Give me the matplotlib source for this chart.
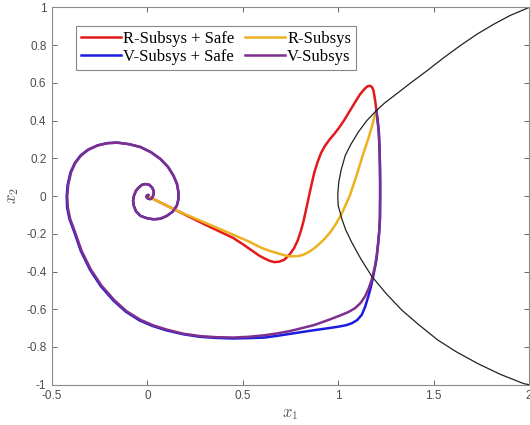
import matplotlib
matplotlib.use('Agg')
import matplotlib.pyplot as plt

plt.rcParams['mathtext.fontset'] = 'cm'

# trajectories (x1, x2)
red_x1 = [0.0, 0.05, 0.15, 0.3, 0.45, 0.5, 0.55, 0.585, 0.613, 0.64, 0.665, 0.69, 0.717,
          0.745, 0.769, 0.788, 0.804, 0.818, 0.83, 0.845, 0.86, 0.875, 0.892, 0.91, 0.93,
          0.955, 0.98, 1.005, 1.03, 1.06, 1.09, 1.115, 1.14, 1.155, 1.167, 1.178, 1.185,
          1.19, 1.195, 1.2]
red_x2 = [0.0, -0.025, -0.075, -0.15, -0.222, -0.255, -0.29, -0.315, -0.33, -0.343, -0.35,
          -0.348, -0.338, -0.31, -0.276, -0.235, -0.187, -0.135, -0.08, -0.01, 0.06, 0.125,
          0.18, 0.228, 0.265, 0.3, 0.33, 0.363, 0.40, 0.45, 0.50, 0.54, 0.57, 0.583, 0.585,
          0.577, 0.56, 0.53, 0.50, 0.455]

yel_x1 = [0.0, 0.05, 0.15, 0.3, 0.45, 0.53, 0.6, 0.64, 0.68, 0.715, 0.75, 0.79, 0.815,
          0.84, 0.87, 0.9, 0.93, 0.96, 0.99, 1.02, 1.04, 1.06, 1.08, 1.1, 1.115, 1.13,
          1.145, 1.16, 1.17, 1.18, 1.19, 1.2]
yel_x2 = [0.0, -0.025, -0.075, -0.14, -0.205, -0.24, -0.275, -0.29, -0.302, -0.313, -0.32,
          -0.318, -0.312, -0.3, -0.28, -0.255, -0.225, -0.19, -0.145, -0.09, -0.045, 0.0,
          0.06, 0.12, 0.17, 0.22, 0.265, 0.31, 0.345, 0.38, 0.42, 0.455]

pur_x1 = [1.2, 1.207, 1.213, 1.217, 1.219, 1.22, 1.22, 1.219, 1.215, 1.21, 1.203, 1.193,
          1.176, 1.16, 1.141, 1.117, 1.089, 1.055, 1.02, 0.951, 0.873, 0.75, 0.68, 0.613,
          0.53, 0.45, 0.36, 0.275, 0.19, 0.102, 0.03, -0.036, -0.11, -0.175, -0.24, -0.296,
          -0.345, -0.383, -0.405, -0.417, -0.42, -0.415, -0.4, -0.378, -0.348, -0.31,
          -0.261, -0.21, -0.157, -0.095, -0.036, 0.02, 0.068, 0.108, 0.137, 0.155, 0.163,
          0.162, 0.154, 0.132, 0.102, 0.068, 0.033, 0.0, -0.036, -0.06, -0.071, -0.075,
          -0.071, -0.06, -0.045, -0.028, -0.01, 0.01, 0.024, 0.033, 0.033, 0.026, 0.016,
          0.004, -0.004, -0.002, 0.006, 0.0]
pur_x2 = [0.455, 0.4, 0.34, 0.25, 0.16, 0.08, 0.0, -0.12, -0.19, -0.247, -0.31, -0.372,
          -0.443, -0.49, -0.532, -0.567, -0.594, -0.614, -0.629, -0.656, -0.684, -0.715,
          -0.728, -0.738, -0.746, -0.75, -0.748, -0.742, -0.73, -0.708, -0.685, -0.656,
          -0.61, -0.55, -0.475, -0.39, -0.29, -0.18, -0.12, -0.06, 0.0, 0.06, 0.126, 0.175,
          0.215, 0.245, 0.268, 0.28, 0.283, 0.275, 0.26, 0.232, 0.197, 0.155, 0.108, 0.065,
          0.02, -0.02, -0.052, -0.083, -0.105, -0.12, -0.123, -0.118, -0.105, -0.08, -0.052,
          -0.025, 0.0, 0.028, 0.046, 0.06, 0.064, 0.06, 0.046, 0.028, 0.01, -0.008, -0.016,
          -0.014, -0.006, 0.004, 0.006, 0.0]

blu_x1 = [1.2, 1.207, 1.213, 1.217, 1.219, 1.22, 1.22, 1.219, 1.215, 1.21, 1.2, 1.184,
          1.172, 1.158, 1.142, 1.124, 1.1, 1.072, 1.04, 1.003, 0.951, 0.873, 0.75, 0.68,
          0.613, 0.53, 0.45, 0.36, 0.275, 0.19, 0.1, 0.028, -0.04, -0.113, -0.179, -0.244,
          -0.3, -0.349, -0.387, -0.409, -0.421, -0.423, -0.418, -0.403, -0.38, -0.35,
          -0.311, -0.262, -0.21, -0.157, -0.095, -0.036, 0.02, 0.068, 0.108, 0.137, 0.155,
          0.163, 0.162, 0.154, 0.132, 0.102, 0.068, 0.033, 0.0, -0.036, -0.06, -0.071,
          -0.075, -0.071, -0.06, -0.045, -0.028, -0.01, 0.01, 0.024, 0.033, 0.033, 0.026,
          0.016, 0.004, -0.004, -0.002, 0.006, 0.0]
blu_x2 = [0.455, 0.4, 0.34, 0.25, 0.16, 0.08, 0.0, -0.12, -0.19, -0.247, -0.34, -0.425,
          -0.48, -0.532, -0.585, -0.629, -0.657, -0.674, -0.685, -0.692, -0.70, -0.711,
          -0.73, -0.741, -0.75, -0.753, -0.755, -0.752, -0.746, -0.733, -0.712, -0.689,
          -0.66, -0.613, -0.553, -0.478, -0.392, -0.291, -0.18, -0.12, -0.06, 0.0, 0.06,
          0.126, 0.176, 0.216, 0.246, 0.269, 0.281, 0.284, 0.275, 0.26, 0.232, 0.197, 0.155,
          0.108, 0.065, 0.02, -0.02, -0.052, -0.083, -0.105, -0.12, -0.123, -0.118, -0.105,
          -0.08, -0.052, -0.025, 0.0, 0.028, 0.046, 0.06, 0.064, 0.06, 0.046, 0.028, 0.01,
          -0.008, -0.016, -0.014, -0.006, 0.004, 0.006, 0.0]

# safe set boundary
bnd_x1 = [2.0, 1.9, 1.817, 1.73, 1.643, 1.555, 1.47, 1.38, 1.297, 1.245, 1.202, 1.15, 1.106,
          1.067, 1.037, 1.016, 1.003, 0.998, 1.0, 1.02, 1.04, 1.072, 1.12, 1.176, 1.25,
          1.332, 1.42, 1.522, 1.62, 1.73, 1.85, 1.972, 2.0]
bnd_x2 = [1.0, 0.957, 0.912, 0.86, 0.80, 0.735, 0.668, 0.60, 0.535, 0.495, 0.455, 0.40, 0.34,
          0.275, 0.215, 0.14, 0.073, 0.01, -0.05, -0.123, -0.18, -0.247, -0.335, -0.425, -0.515,
          -0.603, -0.68, -0.763, -0.826, -0.887, -0.945, -0.994, -1.0]

labels = ['R-Subsys + Safe', 'V-Subsys + Safe', 'R-Subsys', 'V-Subsys']
colors = ['#e31a1c', '#1c1ce0', '#edb120', '#7e2f8e']

fig = plt.figure(figsize=(5.30, 4.25), dpi=100)
ax = fig.add_axes([0.0981, 0.0948, 0.8999, 0.8876])

lw = 1.8
ax.plot(red_x1, red_x2, color=colors[0], lw=lw, label=labels[0])
ax.plot(blu_x1, blu_x2, color=colors[1], lw=lw, label=labels[1])
ax.plot(yel_x1, yel_x2, color=colors[2], lw=lw, label=labels[2])
ax.plot(pur_x1, pur_x2, color=colors[3], lw=lw, label=labels[3])
ax.plot(bnd_x1, bnd_x2, color='#222222', lw=0.9)

ax.set_xlim(-0.5, 2)
ax.set_ylim(-1, 1)
xt = [-0.5, 0, 0.5, 1, 1.5, 2]
yt = [-1, -0.8, -0.6, -0.4, -0.2, 0, 0.2, 0.4, 0.6, 0.8, 1]
ax.set_xticks(xt)
ax.set_xticklabels(['-0.5', '0', '0.5', '1', '1.5', '2'])
ax.set_yticks(yt)
ax.set_yticklabels(['-1', '-0.8', '-0.6', '-0.4', '-0.2', '0', '0.2', '0.4', '0.6', '0.8', '1'])
ax.tick_params(direction='in', length=3.5, width=0.6, top=True, right=True,
               labelsize=8.5, colors='#4d4d4d', pad=4)
for lab in ax.get_xticklabels() + ax.get_yticklabels():
    lab.set_family('Liberation Sans')
for s in ax.spines.values():
    s.set_color('#8c8c8c')
    s.set_linewidth(0.8)

ax.set_xlabel('$x_1$', fontsize=12, color='#555555', labelpad=1)
ax.set_ylabel('$x_2$', fontsize=12, color='#555555', labelpad=4)

leg = ax.legend(ncol=2, loc='upper left', bbox_to_anchor=(0.05, 0.952),
                prop={'family': 'Liberation Serif', 'size': 12},
                fancybox=False, edgecolor='#888888', framealpha=1,
                handlelength=2.4, handletextpad=0.15, columnspacing=0.6,
                labelspacing=0.15, borderpad=0.3, borderaxespad=0)
leg.get_frame().set_linewidth(0.8)

fig.savefig('out.png', dpi=100)
